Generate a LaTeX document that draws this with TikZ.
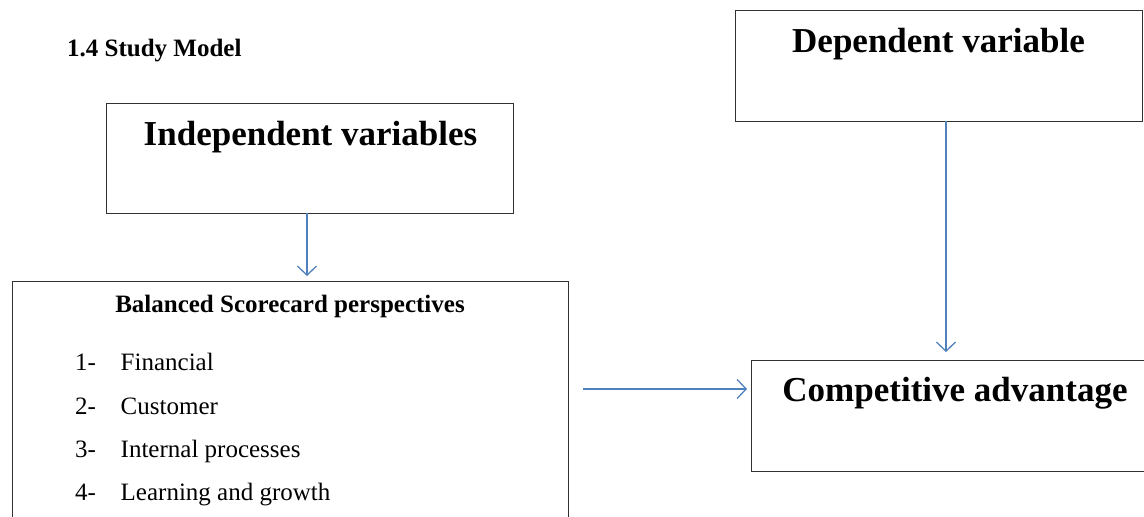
\documentclass[tikz,border=0pt]{standalone}
\usepackage{fontspec}
\setmainfont{Liberation Serif}
\usetikzlibrary{arrows.meta}
\definecolor{arrowblue}{RGB}{79,129,189}
\definecolor{boxline}{RGB}{50,50,50}
\tikzset{
  box/.style={draw=boxline, line width=1.2pt, fill=white, inner sep=0pt, anchor=north west},
  bigtxt/.style={font=\fontsize{35}{40}\selectfont\bfseries, inner sep=0pt, anchor=base},
  midbold/.style={font=\fontsize{25}{28}\selectfont\bfseries, inner sep=0pt},
  item/.style={font=\fontsize{25}{28}\selectfont, inner sep=0pt, anchor=base west},
  arr/.style={draw=arrowblue, line width=1.3pt, -{Straight Barb[length=9pt,width=19pt]}}
}
\begin{document}
\begin{tikzpicture}[x=1pt,y=-1pt]
\useasboundingbox (0,0) rectangle (1144,517);
\clip (0,0) rectangle (1144,517);
% title
\node[midbold, anchor=base west] (title) at (67,56.7) {1.4 Study Model};
% boxes
\node[box, minimum width=407pt, minimum height=110pt] (indep) at (106,103) {};
\node[box, minimum width=407pt, minimum height=111pt] (dep) at (735,9.5) {};
\node[box, minimum width=395pt, minimum height=111pt] (comp) at (751,360) {};
\node[box, minimum width=556pt, minimum height=270pt] (bsc) at (12,281) {};
% box texts
\node[bigtxt] (indeptxt) at (310.5,145) {Independent variables};
\node[bigtxt] (deptxt) at (938.5,52) {Dependent variable};
\node[bigtxt] (comptxt) at (955,401.7) {Competitive advantage};
\node[midbold, anchor=base] (bsctxt) at (290,312.7) {Balanced Scorecard perspectives};
% list
\node[item] (n1) at (75,370) {1-};
\node[item] (i1) at (120.5,370) {Financial};
\node[item] (n2) at (75,414) {2-};
\node[item] (i2) at (120.5,414) {Customer};
\node[item] (n3) at (75,457) {3-};
\node[item] (i3) at (120.5,457) {Internal processes};
\node[item] (n4) at (75,500) {4-};
\node[item] (i4) at (120.5,500) {Learning and growth};
% connectors
\coordinate (a1) at (307,213);
\draw[arr, shorten >=5pt] (a1) -- (a1 |- bsc.north);
\coordinate (a2) at (946,120.5);
\draw[arr, shorten >=8pt] (a2) -- (a2 |- comp.north);
\coordinate (a3) at (583,389);
\draw[arr, shorten >=4pt] (a3) -- (a3 -| comp.west);
\end{tikzpicture}
\end{document}
